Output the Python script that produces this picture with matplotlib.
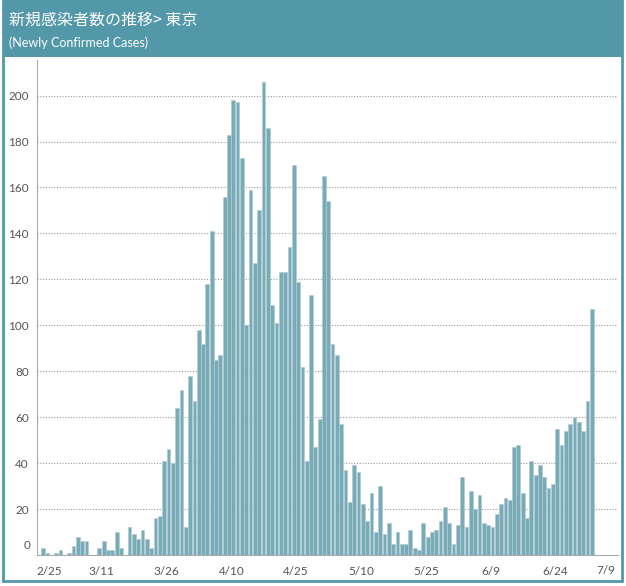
import matplotlib
matplotlib.use("Agg")
import matplotlib.pyplot as plt
from matplotlib.patches import Rectangle
import pandas as pd

# daily newly confirmed cases, Tokyo, 2020-02-26 .. 2020-07-02
feb = [3, 1, 0, 1]
mar = [2, 0, 1, 4, 8, 6, 6, 0, 0, 3, 6, 2, 2, 10, 3, 0, 12, 9, 7, 11,
       7, 3, 16, 17, 41, 46, 40, 64, 72, 12, 78]
apr = [67, 98, 92, 118, 141, 85, 87, 156, 183, 198, 197, 173, 100, 159, 127,
       150, 206, 186, 109, 101, 123, 123, 134, 170, 119, 82, 41, 113, 47, 59]
may = [165, 154, 92, 87, 57, 37, 23, 39, 36, 22, 15, 27, 10, 30, 9, 14, 5,
       10, 5, 5, 11, 3, 2, 14, 8, 10, 11, 15, 21, 14, 5]
jun = [13, 34, 12, 28, 20, 26, 14, 13, 12, 18, 22, 25, 24, 47, 48, 27, 16,
       41, 35, 39, 34, 29, 31, 55, 48, 54, 57, 60, 58, 54]
jul = [67, 107]

cases = feb + mar + apr + may + jun + jul
dates = pd.date_range("2020-02-26", periods=len(cases), freq="D")

tick_dates = ["2020-02-25", "2020-03-11", "2020-03-26", "2020-04-10", "2020-04-25",
              "2020-05-10", "2020-05-25", "2020-06-09", "2020-06-24"]
tick_labels = ["2/25", "3/11", "3/26", "4/10", "4/25", "5/10", "5/25", "6/9", "6/24"]
last_label = "7/9"
y_ticks = list(range(20, 201, 20))

title = "新規感染者数の推移> 東京"
subtitle = "(Newly Confirmed Cases)"

teal = "#5298a9"
bar_color = "#78abb8"
label_color = "#555555"

W, H = 626, 586
fig = plt.figure(figsize=(W / 100, H / 100), dpi=100)

# header band and outer frame
fig.add_artist(Rectangle((3 / W, 1 - 57 / H), 619 / W, 57 / H,
                         transform=fig.transFigure, facecolor=teal, edgecolor="none"))
fig.add_artist(Rectangle((3 / W, 1 - 581 / H), 619 / W, 581 / H,
                         transform=fig.transFigure, facecolor="none", edgecolor=teal, lw=2))
fig.text(9 / W, 1 - 20 / H, title, color="white", fontsize=11.5, va="center", ha="left",
         family=["Noto Sans CJK JP", "DejaVu Sans"])
fig.text(9 / W, 1 - 43 / H, subtitle, color="white", fontsize=9, va="center", ha="left",
         family=["Lato", "DejaVu Sans"])

ax = fig.add_axes([37 / W, (H - 555) / H, (618 - 37) / W, (555 - 60) / H])

ax.bar(dates, cases, width=0.87, align="edge", color=bar_color,
       edgecolor="#b3cbd1", linewidth=0.5, zorder=3)

ax.set_xlim(pd.Timestamp("2020-02-25"), pd.Timestamp("2020-07-08 12:00"))
ax.set_ylim(0, 215.5)

ax.set_yticks(y_ticks)
ax.set_yticklabels([str(v) for v in y_ticks])
ax.yaxis.grid(True, linestyle=(0, (1, 1.5)), color="#999999", linewidth=0.8, zorder=0)
ax.tick_params(axis="y", length=0, pad=6, labelsize=8.5, labelcolor=label_color)

ax.set_xticks([pd.Timestamp(d) for d in tick_dates])
ax.set_xticklabels(tick_labels)
ax.tick_params(axis="x", length=0, pad=8, labelsize=8.5, labelcolor=label_color)
ax.get_xticklabels()[0].set_ha("left")

for lab in ax.get_xticklabels() + ax.get_yticklabels():
    lab.set_family(["Lato", "DejaVu Sans"])

# zero label sits a bit above the baseline; last date label clamped to the right edge
ax.text(-6 / 581, 4, "0", transform=ax.get_yaxis_transform(), ha="right", va="center",
        fontsize=8.5, color=label_color, family=["Lato", "DejaVu Sans"])
ax.text(0.995, -16 / 495, last_label, transform=ax.transAxes, ha="right", va="center",
        fontsize=8.5, color=label_color, family=["Lato", "DejaVu Sans"])

for side in ["top", "right"]:
    ax.spines[side].set_visible(False)
ax.spines["left"].set_color("#aaaaaa")
ax.spines["bottom"].set_color("#aaaaaa")

fig.savefig("out.png", dpi=100)
